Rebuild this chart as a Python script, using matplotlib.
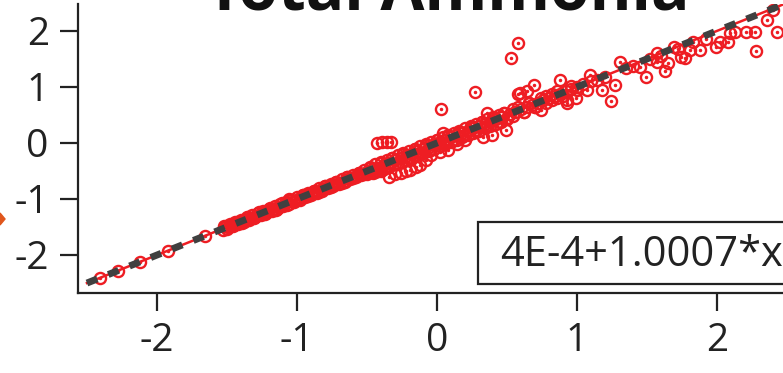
import numpy as np
import matplotlib.pyplot as plt
from matplotlib.patches import Polygon, Rectangle

plt.rcParams['font.family'] = ['Open Sans', 'DejaVu Sans']

x_tail = [-2.41, -2.28, -2.12, -1.92, -1.66]
y_tail = [-2.42, -2.28, -2.13, -1.93, -1.66]

x_band = [-1.53, -1.49, -1.45, -1.41, -1.37, -1.33, -1.29, -1.25, -1.21, -1.17,
          -1.13, -1.09, -1.06, -1.02, -0.98, -0.94, -0.90, -0.86, -0.82, -0.78,
          -0.74, -0.70, -0.66, -0.62, -0.58, -0.54, -0.50, -0.46, -0.42, -0.38,
          -0.34, -0.30, -0.26, -0.22, -0.18, -0.14, -0.10, -0.06, -0.02, 0.02,
          0.06, 0.10, 0.14, 0.18, 0.22, 0.26, 0.30, 0.34, 0.38, 0.42,
          0.46, 0.52, 0.56, 0.60, 0.64, 0.68, 0.72, 0.76, 0.80, 0.84,
          0.88, 0.92, 0.96, 1.00, 1.04, 1.10, 1.14, 1.20, 1.35, 1.40,
          1.52, 1.60, 1.72, 1.92, 2.40]
y_band = [-1.55, -1.50, -1.46, -1.42, -1.37, -1.34, -1.30, -1.25, -1.22, -1.18,
          -1.14, -1.10, -1.00, -1.03, -0.99, -0.95, -0.90, -0.87, -0.83, -0.79,
          -0.75, -0.71, -0.67, -0.63, -0.59, -0.55, -0.51, -0.47, -0.44, -0.39,
          -0.35, -0.31, -0.27, -0.23, -0.19, -0.15, -0.11, -0.07, -0.03, 0.02,
          0.06, 0.10, 0.14, 0.18, 0.22, 0.26, 0.30, 0.34, 0.38, 0.42,
          0.46, 0.52, 0.56, 0.60, 0.64, 0.68, 0.72, 0.76, 0.80, 0.84,
          0.88, 0.92, 0.96, 1.00, 1.05, 1.10, 1.12, 1.18, 1.34, 1.38,
          1.50, 1.56, 1.68, 1.86, 2.38]

x_band2 = [-1.51, -1.47, -1.43, -1.39, -1.35, -1.31, -1.27, -1.23, -1.19, -1.15,
           -1.11, -1.07, -1.04, -1.00, -0.96, -0.92, -0.88, -0.84, -0.80, -0.76,
           -0.72, -0.68, -0.64, -0.60, -0.56, -0.52, -0.48, -0.44, -0.40, -0.36,
           -0.32, -0.28, -0.24, -0.20, -0.16, -0.12, -0.08, -0.04, 0.00, 0.04,
           0.08, 0.12, 0.16, 0.20, 0.24, 0.28, 0.32, 0.36, 0.40, 0.44,
           0.48, 0.54, 0.58, 0.62, 0.66, 0.70, 0.74, 0.78, 0.82, 0.86]
y_band2 = [-1.48, -1.49, -1.41, -1.43, -1.32, -1.34, -1.24, -1.26, -1.16, -1.19,
           -1.08, -1.10, -1.01, -1.02, -0.93, -0.95, -0.85, -0.87, -0.77, -0.79,
           -0.69, -0.71, -0.61, -0.63, -0.53, -0.56, -0.44, -0.50, -0.36, -0.42,
           -0.27, -0.35, -0.19, -0.27, -0.10, -0.18, -0.03, -0.10, 0.05, -0.01,
           0.12, 0.06, 0.20, 0.14, 0.28, 0.22, 0.37, 0.30, 0.45, 0.38,
           0.54, 0.48, 0.64, 0.56, 0.72, 0.64, 0.80, 0.72, 0.88, 0.80]

x_band3 = [-1.52, -1.48, -1.44, -1.40, -1.36, -1.32, -1.28, -1.24, -1.20, -1.16,
           -1.12, -1.08, -1.04, -1.00, -0.96, -0.92, -0.88, -0.84, -0.80, -0.76,
           -0.72, -0.68, -0.64, -0.60, -0.56, -0.52, -0.48, -0.44, -0.40, -0.36,
           -0.32, -0.28, -0.24, -0.20, -0.16, -0.12, -0.08, -0.04, 0.00, 0.04,
           0.08, 0.12, 0.16, 0.20, 0.24, 0.28, 0.32, 0.36, 0.40, 0.44, 0.48]
y_band3 = [-1.49, -1.45, -1.41, -1.37, -1.33, -1.29, -1.25, -1.21, -1.17, -1.13,
           -1.09, -1.05, -1.01, -0.97, -0.93, -0.89, -0.85, -0.81, -0.77, -0.73,
           -0.69, -0.65, -0.61, -0.57, -0.53, -0.49, -0.43, -0.38, -0.34, -0.30,
           -0.26, -0.22, -0.18, -0.14, -0.10, -0.06, -0.02, 0.02, 0.06, 0.10,
           0.14, 0.18, 0.22, 0.26, 0.30, 0.34, 0.38, 0.42, 0.46, 0.50, 0.54]

x_band4 = [-1.50, -1.46, -1.42, -1.38, -1.34, -1.30, -1.26, -1.22, -1.18, -1.14,
           -1.10, -1.06, -1.02, -0.98, -0.94, -0.90, -0.86, -0.82, -0.78, -0.74,
           -0.70, -0.66, -0.62, -0.58, -0.54, -0.50, -0.46, -0.42, -0.38, -0.34,
           -0.30, -0.26, -0.22, -0.18, -0.14, -0.10, -0.06, -0.02, 0.02, 0.06,
           0.10, 0.14, 0.18, 0.22, 0.26, 0.30, 0.34, 0.38, 0.42, 0.46, 0.50]
y_band4 = [-1.53, -1.49, -1.45, -1.41, -1.37, -1.33, -1.29, -1.25, -1.21, -1.17,
           -1.13, -1.09, -1.05, -1.01, -0.97, -0.93, -0.89, -0.85, -0.81, -0.77,
           -0.73, -0.69, -0.65, -0.61, -0.57, -0.55, -0.54, -0.50, -0.46, -0.42,
           -0.38, -0.34, -0.30, -0.26, -0.22, -0.18, -0.14, -0.10, -0.06, -0.02,
           0.02, 0.06, 0.10, 0.14, 0.18, 0.22, 0.26, 0.30, 0.34, 0.38, 0.42]

x_low = [-0.44, -0.40, -0.34, -0.30, -0.26, -0.22, -0.19, -0.15, -0.12, -0.08,
         -0.04, 0.02, 0.08, 0.14, 0.20, 0.33, 0.39, 0.49, 0.50, 0.62,
         0.70, 0.74, 0.82, 0.90, 0.93, 0.93, 0.99, 1.00, 1.07, 1.18,
         1.24, 1.27, 1.45, 1.49, 1.57, 1.63, 1.65, 1.74, 1.77, 1.81,
         1.88, 1.99, 2.02, 2.08, 2.09, 2.13, 2.21, 2.27, 2.28, 2.43]
y_low = [-0.52, -0.50, -0.60, -0.56, -0.54, -0.50, -0.48, -0.42, -0.39, -0.30,
         -0.22, -0.16, -0.125, -0.02, 0.06, 0.11, 0.14, 0.23, 0.44, 0.55,
         0.64, 0.59, 0.76, 0.84, 0.71, 0.77, 0.80, 0.94, 0.95, 0.95,
         0.75, 1.04, 1.36, 1.18, 1.45, 1.29, 1.42, 1.54, 1.51, 1.66,
         1.66, 1.72, 1.81, 1.81, 1.96, 1.99, 1.98, 1.98, 1.65, 1.98]

x_high = [-0.43, -0.39, -0.36, -0.33, 0.03, 0.04, 0.27, 0.36, 0.526, 0.54,
          0.576, 0.58, 0.59, 0.64, 0.66, 0.69, 0.78, 0.86, 0.88, 0.96,
          1.09, 1.31, 1.57, 1.69, 1.83, 2.36]
y_high = [0.00, 0.02, 0.02, 0.02, 0.61, 0.18, 0.91, 0.54, 1.52, 0.60,
          1.79, 0.87, 0.89, 0.92, 0.72, 1.04, 0.84, 0.92, 1.125, 1.02,
          1.21, 1.45, 1.60, 1.72, 1.81, 2.20]

x_obs = x_tail + x_band + x_band2 + x_band3 + x_band4 + x_low + x_high
y_obs = y_tail + y_band + y_band2 + y_band3 + y_band4 + y_low + y_high

# fitted line  4E-4 + 1.0007*x
intercept = 4e-4
slope = 1.0007
fit_range = [-2.5, 2.7]
fit_label = '4E-4+1.0007*x'

red = '#EE1D23'
grey = '#404040'
ink = '#222222'

fig = plt.figure(figsize=(7.83, 3.73), dpi=100)
ax = fig.add_axes([78 / 783, 80 / 373, 1 - 78 / 783, 289 / 373])

ax.plot(x_obs, y_obs, 'o', ms=8, mfc='none', mec=red, mew=1.7, zorder=2)
ax.plot(x_obs, y_obs, '.', ms=3, color=red, zorder=2)

xf = np.array(fit_range)
yf = intercept + slope * xf
ax.plot(xf, yf, color=red, lw=1.8, zorder=3)
ax.plot(xf, yf, color=grey, lw=5, ls=(0, (1.6, 1.7)), dash_capstyle='butt', zorder=4)

ax.set_xlim(-2.564, 2.471)
ax.set_ylim(-2.679, 2.482)
ax.set_xticks([-2, -1, 0, 1, 2])
ax.set_yticks([-2, -1, 0, 1, 2])
ax.set_xticklabels(['-2', '-1', '0', '1', '2'])
ax.set_yticklabels(['-2', '-1', '0', '1', '2'])
for s in ['top', 'right']:
    ax.spines[s].set_visible(False)
for s in ['left', 'bottom']:
    ax.spines[s].set_linewidth(1.6)
    ax.spines[s].set_color(ink)
ax.tick_params(direction='out', length=13, width=1.6, color=ink,
               labelsize=28, pad=8, labelcolor=ink)

# legend-style box with the fit equation
box = Rectangle((478 / 783, 1 - 284 / 373), 340 / 783, 62 / 373,
                transform=fig.transFigure, fc='white', ec=ink, lw=1.6, zorder=5)
fig.add_artist(box)
fig.text(500 / 783, 1 - 250 / 373, fit_label, fontsize=30, color=ink,
         va='center_baseline', ha='left', zorder=6)

fig.text(448 / 783, (373 - 9) / 373, 'Total Ammonia', fontsize=46,
         fontweight='bold', ha='center', va='baseline', color='#111111')

arrow = Polygon([[0, 1 - 213 / 373], [5 / 783, 1 - 219 / 373],
                 [0, 1 - 225 / 373]], closed=True, color='#E0561C',
                transform=fig.transFigure)
fig.add_artist(arrow)

fig.savefig('out.png', dpi=100)
